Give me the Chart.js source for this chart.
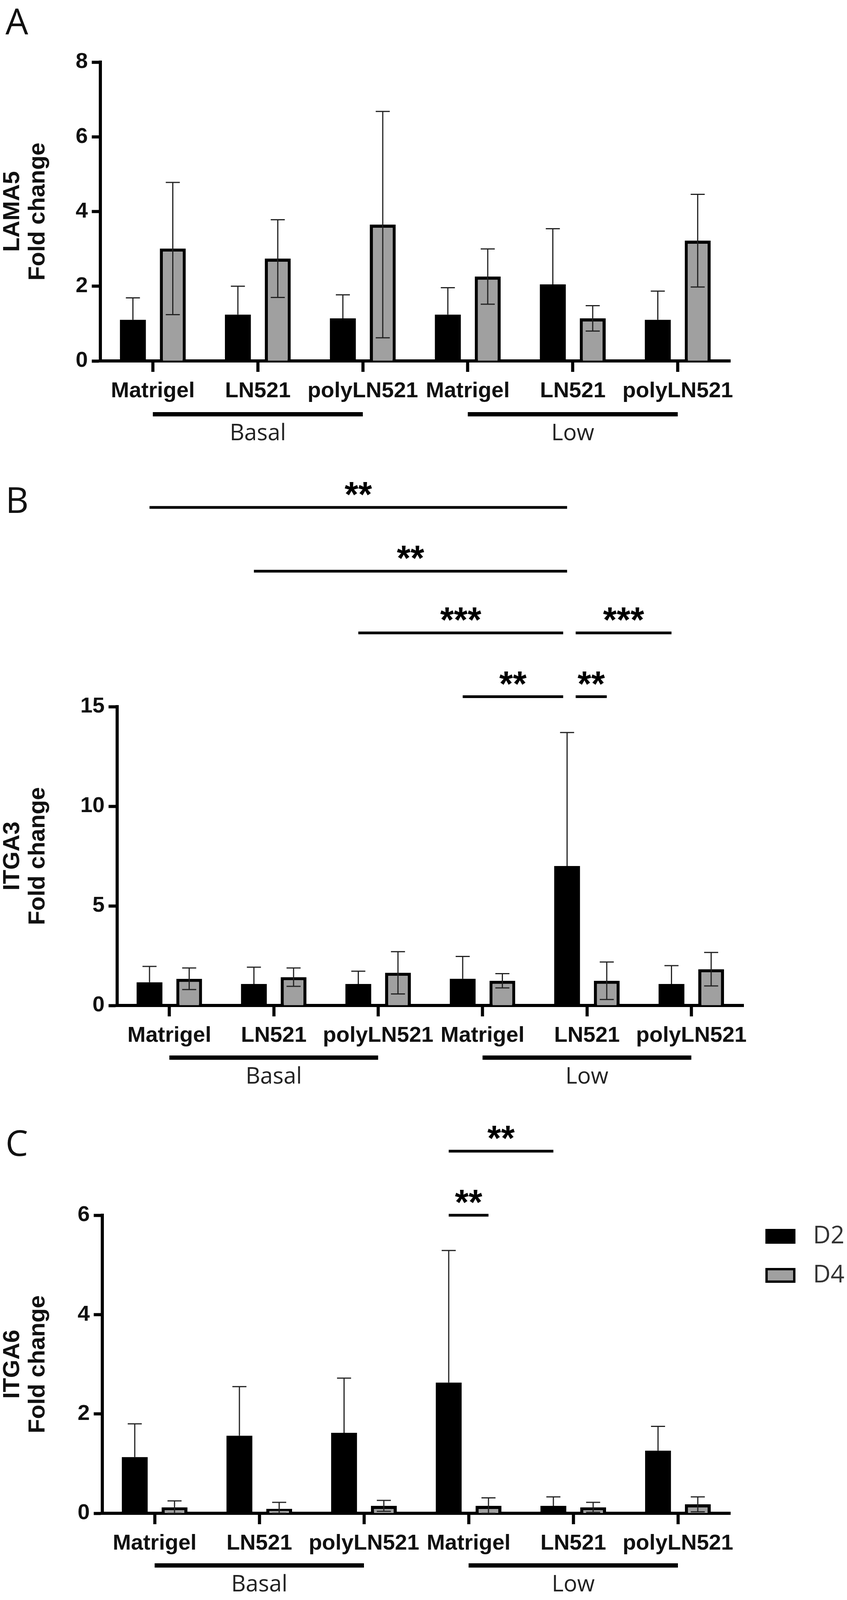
<!DOCTYPE html>
<html>
<head>
<meta charset="utf-8">
<script src="https://cdn.jsdelivr.net/npm/chart.js@4"></script>
<style>
  body { margin: 0; background: #fff; width: 2169px; height: 4107px; position: relative; }
  canvas { position: absolute; left: 0; }
</style>
</head>
<body>
<canvas id="chartA" style="top:0px"></canvas>
<canvas id="chartB" style="top:1150px"></canvas>
<canvas id="chartC" style="top:2790px"></canvas>
<script>
// Fold change bar panels A-C (mean + SD)

const categories = ['Matrigel', 'LN521', 'polyLN521', 'Matrigel', 'LN521', 'polyLN521'];
const groupLabels = ['Basal', 'Low'];
const seriesLabels = ['D2', 'D4'];

// Panel A - LAMA5
const lamaD2 = [1.10, 1.24, 1.14, 1.24, 2.05, 1.10];
const lamaD2Sd = [0.59, 0.76, 0.63, 0.72, 1.49, 0.77];
const lamaD4 = [3.01, 2.74, 3.65, 2.26, 1.14, 3.22];
const lamaD4Sd = [1.77, 1.04, 3.03, 0.74, 0.34, 1.24];

// Panel B - ITGA3
const itga3D2 = [1.16, 1.08, 1.08, 1.34, 7.00, 1.08];
const itga3D2Sd = [0.80, 0.84, 0.64, 1.12, 6.70, 0.92];
const itga3D4 = [1.34, 1.42, 1.64, 1.24, 1.24, 1.82];
const itga3D4Sd = [0.54, 0.46, 1.06, 0.36, 0.94, 0.84];
// [fromCategory, fromSeries, toCategory, toSeries, height, stars]
const itga3Sig = [
  [0, 0, 4, 0, 25.0, '**'],
  [1, 0, 4, 0, 21.8, '**'],
  [2, 0, 4, 0, 18.7, '***'],
  [4, 0, 5, 0, 18.7, '***'],
  [3, 0, 4, 0, 15.5, '**'],
  [4, 0, 4, 1, 15.5, '**']
];

// Panel C - ITGA6
const itga6D2 = [1.13, 1.56, 1.62, 2.63, 0.15, 1.26];
const itga6D2Sd = [0.67, 0.99, 1.10, 2.66, 0.18, 0.49];
const itga6D4 = [0.12, 0.09, 0.15, 0.15, 0.12, 0.18];
const itga6D4Sd = [0.13, 0.13, 0.11, 0.16, 0.10, 0.15];
const itga6Sig = [
  [3, 0, 4, 0, 7.29, '**'],
  [3, 0, 3, 1, 6.0, '**']
];

const BOLD = 'Liberation Sans';
const REG = 'Open Sans';

const errorBars = {
  id: 'errorBars',
  afterDatasetsDraw(chart) {
    const ctx = chart.ctx;
    const y = chart.scales.y;
    ctx.save();
    ctx.strokeStyle = '#222';
    ctx.lineWidth = 3;
    chart.data.datasets.forEach((ds, di) => {
      const meta = chart.getDatasetMeta(di);
      meta.data.forEach((bar, i) => {
        const m = ds.data[i], sd = ds.sd[i];
        const yt = y.getPixelForValue(m + sd);
        const ym = y.getPixelForValue(m);
        const yb = di === 0 ? ym : y.getPixelForValue(Math.max(0, m - sd));
        ctx.beginPath();
        ctx.moveTo(bar.x, yb); ctx.lineTo(bar.x, yt);
        ctx.moveTo(bar.x - 18, yt); ctx.lineTo(bar.x + 18, yt);
        if (di !== 0) { ctx.moveTo(bar.x - 18, yb); ctx.lineTo(bar.x + 18, yb); }
        ctx.stroke();
      });
    });
    ctx.restore();
  }
};

const extras = {
  id: 'extras',
  afterDraw(chart, args, opts) {
    const ctx = chart.ctx;
    const x = chart.scales.x, y = chart.scales.y;
    ctx.save();
    // panel letter
    ctx.fillStyle = '#111';
    ctx.font = '92px ' + REG;
    ctx.textBaseline = 'middle';
    ctx.textAlign = 'left';
    ctx.fillText(opts.letter, 14, opts.letterY);
    // group bars
    groupLabels.forEach((g, gi) => {
      const x0 = x.getPixelForValue(gi * 3), x1 = x.getPixelForValue(gi * 3 + 2);
      ctx.fillStyle = '#000';
      ctx.fillRect(x0, opts.groupY - 5, x1 - x0, 11);
      ctx.fillStyle = '#222';
      ctx.font = '58px ' + REG;
      ctx.textAlign = 'center';
      ctx.fillText(g, x.getPixelForValue(gi * 3 + 1), opts.groupY + 50);
    });
    // significance lines
    const sig = opts.sig || [];
    const px = (c, s) => chart.getDatasetMeta(s).data[c].x;
    sig.forEach((s, si) => {
      let xa = px(s[0], s[1]), xb = px(s[2], s[3]);
      const ly = y.getPixelForValue(s[4]);
      sig.forEach((o, oi) => {
        if (oi === si || o[4] !== s[4]) return;
        if (o[0] === s[2] && o[1] === s[3]) xb -= 10;
        if (o[2] === s[0] && o[3] === s[1]) xa += 22;
      });
      ctx.strokeStyle = '#000';
      ctx.lineWidth = 7;
      ctx.beginPath(); ctx.moveTo(xa, ly); ctx.lineTo(xb, ly); ctx.stroke();
      ctx.fillStyle = '#000';
      ctx.font = 'bold 90px ' + BOLD;
      ctx.textAlign = 'center';
      ctx.textBaseline = 'alphabetic';
      const mt = ctx.measureText(s[5]);
      const cy = ly - 48;
      ctx.fillText(s[5], (xa + xb) / 2, cy + (mt.actualBoundingBoxAscent - mt.actualBoundingBoxDescent) / 2);
    });
    // legend
    if (opts.legend) {
      chart.data.datasets.forEach((ds, di) => {
        const top = opts.legend.y + di * 100;
        ctx.fillStyle = ds.backgroundColor;
        ctx.fillRect(opts.legend.x, top, 77, 38);
        ctx.strokeStyle = '#000';
        ctx.lineWidth = 6;
        ctx.strokeRect(opts.legend.x + 3, top + 3, 71, 32);
        ctx.fillStyle = '#333';
        ctx.font = '62px ' + REG;
        ctx.textAlign = 'left';
        ctx.textBaseline = 'middle';
        ctx.fillText(ds.label, opts.legend.x + 122, top + 19);
      });
    }
    ctx.restore();
  }
};

function makeChart(id, cfg) {
  const canvas = document.getElementById(id);
  canvas.width = 2169;
  canvas.height = cfg.height;
  return new Chart(canvas.getContext('2d'), {
    type: 'bar',
    data: {
      labels: categories,
      datasets: [
        { label: seriesLabels[0], data: cfg.d2, sd: cfg.d2Sd, backgroundColor: '#000', borderWidth: 0,
          categoryPercentage: 0.76, barPercentage: 0.65 },
        { label: seriesLabels[1], data: cfg.d4, sd: cfg.d4Sd, backgroundColor: '#a0a0a0', borderColor: '#000',
          borderWidth: 8, categoryPercentage: 0.76, barPercentage: 0.65 }
      ]
    },
    options: {
      responsive: false,
      animation: false,
      devicePixelRatio: 1,
      layout: { padding: { top: cfg.top, right: 2169 - cfg.right, left: 0, bottom: 0 } },
      plugins: {
        legend: { display: false },
        tooltip: { enabled: false },
        extras: cfg.extras
      },
      scales: {
        x: {
          afterFit: s => { s.height = cfg.height - cfg.bottom; },
          border: { color: '#000', width: 8 },
          grid: { drawOnChartArea: false, offset: false, tickLength: 28, tickWidth: 8, color: '#000' },
          ticks: { color: '#111', padding: 16, font: { family: BOLD, weight: 'bold', size: 56 }, maxRotation: 0, autoSkip: false }
        },
        y: {
          min: 0, max: cfg.max,
          afterFit: s => { s.width = cfg.left; },
          border: { color: '#000', width: 8 },
          grid: { drawOnChartArea: false, tickLength: 22, tickWidth: 8, color: '#000' },
          ticks: { stepSize: cfg.step, color: '#111', padding: 10, font: { family: BOLD, weight: 'bold', size: 56 } },
          title: { display: true, text: cfg.title, color: '#111', padding: { top: 0, bottom: 0 },
            font: { family: BOLD, weight: 'bold', size: 60, lineHeight: 1.08 } }
        }
      }
    },
    plugins: [errorBars, extras]
  });
}

makeChart('chartA', {
  height: 1150, top: 159, bottom: 924, left: 257, right: 1870, max: 8, step: 2,
  title: ['LAMA5', 'Fold change'], d2: lamaD2, d2Sd: lamaD2Sd, d4: lamaD4, d4Sd: lamaD4Sd,
  extras: { letter: 'A', letterY: 62, groupY: 1060 }
});

makeChart('chartB', {
  height: 1640, top: 659, bottom: 1424, left: 300, right: 1904, max: 15, step: 5,
  title: ['ITGA3', 'Fold change'], d2: itga3D2, d2Sd: itga3D2Sd, d4: itga3D4, d4Sd: itga3D4Sd,
  extras: { letter: 'B', letterY: 137, groupY: 1557, sig: itga3Sig }
});

makeChart('chartC', {
  height: 1317, top: 321, bottom: 1084, left: 262, right: 1870, max: 6, step: 2,
  title: ['ITGA6', 'Fold change'], d2: itga6D2, d2Sd: itga6D2Sd, d4: itga6D4, d4Sd: itga6D4Sd,
  extras: { letter: 'C', letterY: 143, groupY: 1217, sig: itga6Sig, legend: { x: 1960, y: 356 } }
});
</script>
</body>
</html>
